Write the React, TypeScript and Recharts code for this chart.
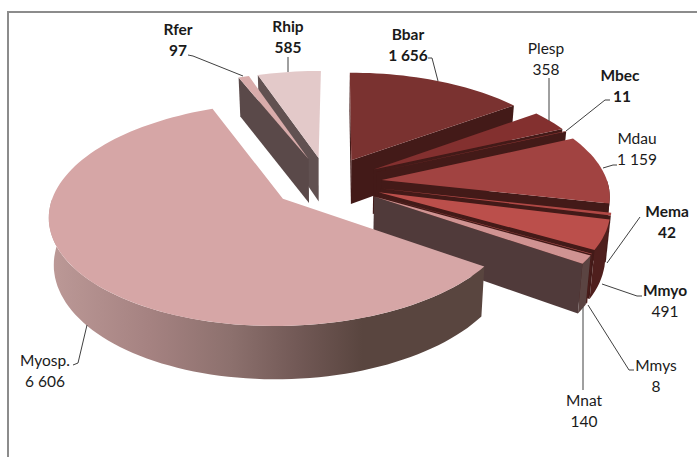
import { PieChart, Pie } from 'recharts'

// species names and counts, clockwise from the Rhip slice
const names = ['Rhip', 'Bbar', 'Plesp', 'Mbec', 'Mdau', 'Mema', 'Mmyo', 'Mmys', 'Mnat', 'Myosp.', 'Rfer']
const counts = [585, 1656, 358, 11, 1159, 42, 491, 8, 140, 6606, 97]
const countLabels = ['585', '1 656', '358', '11', '1 159', '42', '491', '8', '140', '6 606', '97']

const topColors = ['#e3c9c9', '#7a3230', '#83302f', '#8a3432', '#a14341', '#b04845', '#bb4f4b', '#c05b58', '#d09392', '#d6a6a6', '#d9acab']
const wallColors = ['#615151', '#431a18', '#431a18', '#431a18', '#431a18', '#431a18', '#431a18', '#431a18', '#503a3a', '#56443f', '#5a4949']
const rimColors = ['#8f7575', '#431a18', '#431a18', '#431a18', '#431a18', '#4f1f1d', '#4f1f1d', '#5a2422', '#5b4442', 'url(#myospRim)', '#8f7575']

const pieData = names.map((name, i) => ({ name, value: counts[i], count: countLabels[i] }))

// label placement
const labelSpots: Record<string, { x: number; y: number; nameBold: boolean; countBold: boolean; leader: number[][] }> = {
  Bbar: { x: 408, y: 35, nameBold: true, countBold: true, leader: [[438, 81], [432, 58], [428, 58]] },
  Plesp: { x: 546, y: 49, nameBold: false, countBold: false, leader: [[549, 121], [549, 78]] },
  Mbec: { x: 620, y: 76, nameBold: true, countBold: true, leader: [[566, 131], [605, 100], [610, 100]] },
  Mdau: { x: 637, y: 139, nameBold: false, countBold: false, leader: [[603, 168], [613, 165], [617, 165]] },
  Mema: { x: 667, y: 212, nameBold: true, countBold: true, leader: [[607, 263], [640, 217]] },
  Mmyo: { x: 665, y: 291, nameBold: true, countBold: false, leader: [[602, 284], [637, 296], [642, 296]] },
  Mmys: { x: 656, y: 366, nameBold: false, countBold: false, leader: [[588, 305], [629, 370], [634, 370]] },
  Mnat: { x: 584, y: 401, nameBold: false, countBold: false, leader: [[583, 307], [583, 390]] },
  'Myosp.': { x: 45, y: 361, nameBold: false, countBold: false, leader: [[87, 325], [78, 363], [73, 365]] },
  Rfer: { x: 178, y: 30, nameBold: true, countBold: true, leader: [[243, 76], [193, 56], [188, 55]] },
  Rhip: { x: 288, y: 27, nameBold: true, countBold: true, leader: [[288, 72], [288, 57]] },
}

const rad = Math.PI / 180
const TILT = 0.465
const PERSPECTIVE_X = 0.0006
const PERSPECTIVE_Y = 0.0006
const SHEAR = 0.006
const EXPLODE = 55
const DEPTH = 45

// clock angle and radius on the pie's plane -> screen point
function project(cx: number, cy: number, clock: number, r: number, mid: number, drop = 0) {
  const x = r * Math.sin(clock * rad) + EXPLODE * Math.sin(mid * rad)
  const y = -r * Math.cos(clock * rad) - EXPLODE * Math.cos(mid * rad)
  const fx = 1 / (1 - PERSPECTIVE_X * y)
  const fy = 1 / (1 - PERSPECTIVE_Y * y)
  return [cx + x * fx * (1 - drop * 0.0004) - SHEAR * y, cy + (TILT * y + drop) * fy]
}

const toPath = (pts: number[][]) => 'M' + pts.map((p) => `${p[0].toFixed(1)},${p[1].toFixed(1)}`).join('L') + 'Z'

function Slice3D(props: any) {
  const { cx, cy, outerRadius, startAngle, endAngle, index } = props
  const from = 90 - startAngle
  const to = 90 - endAngle
  const mid = (from + to) / 2
  const norm = (a: number) => ((a % 360) + 360) % 360
  const arc = (a: number, b: number, drop = 0) => {
    const pts = []
    const steps = Math.max(2, Math.ceil(Math.abs(b - a) / 2))
    for (let i = 0; i <= steps; i++) pts.push(project(cx, cy, a + ((b - a) * i) / steps, outerRadius, mid, drop))
    return pts
  }
  const apex = project(cx, cy, 0, 0, mid)
  const apexLow = project(cx, cy, 0, 0, mid, DEPTH)
  const wall = (a: number) =>
    toPath([apex, project(cx, cy, a, outerRadius, mid), project(cx, cy, a, outerRadius, mid, DEPTH), apexLow])

  // rim only shows on the front half of the pie
  const rimFrom = Math.max(from, 90)
  const rimTo = Math.min(to, 270)
  const hasRim = rimTo > rimFrom
  const showEnd = norm(to) < 180
  const showStart = norm(from) > 180

  return (
    <g>
      {showStart && <path d={wall(from)} fill={wallColors[index]} />}
      {showEnd && <path d={wall(to)} fill={wallColors[index]} />}
      {hasRim && <path d={toPath([...arc(rimFrom, rimTo), ...arc(rimFrom, rimTo, DEPTH).reverse()])} fill={rimColors[index]} />}
      <path d={toPath([apex, ...arc(from, to)])} fill={topColors[index]} />
    </g>
  )
}

function SliceLabel(props: any) {
  const spot = labelSpots[props.name]
  if (!spot) return null
  const text = { textAnchor: 'middle' as const, fontFamily: 'Lato, sans-serif', fontSize: 15.5, fill: '#1a1a1a' }
  return (
    <g>
      <polyline points={spot.leader.map((p) => p.join(',')).join(' ')} fill="none" stroke="#404040" strokeWidth={1} />
      <text x={spot.x} y={spot.y + 5} fontWeight={spot.nameBold ? 700 : 400} {...text}>{props.name}</text>
      <text x={spot.x + (props.name === 'Mbec' ? 2 : 0)} y={spot.y + 25.5} fontWeight={spot.countBold ? 700 : 400} {...text}>{props.payload?.count ?? props.count}</text>
    </g>
  )
}

export default function App() {
  return (
    <div style={{ position: 'absolute', left: 0, top: 0, width: 697, height: 457, background: '#fff', overflow: 'hidden' }}>
      <div style={{ position: 'absolute', left: 7, top: 11, width: 690, height: 1.5, background: '#8c8c8c' }} />
      <div style={{ position: 'absolute', left: 7, top: 11, width: 1.5, height: 446, background: '#8c8c8c' }} />
      <PieChart width={697} height={457} margin={{ top: 0, right: 0, bottom: 0, left: 0 }} style={{ position: 'absolute', left: 0, top: 0 }}>
        <defs>
          <linearGradient id="myospRim" gradientUnits="userSpaceOnUse" x1="50" y1="0" x2="484" y2="0">
            <stop offset="0" stopColor="#bc9997" />
            <stop offset="0.23" stopColor="#a58281" />
            <stop offset="0.42" stopColor="#8c706d" />
            <stop offset="0.57" stopColor="#725956" />
            <stop offset="0.72" stopColor="#59453f" />
            <stop offset="1" stopColor="#59453f" />
          </linearGradient>
        </defs>
        <Pie
          data={pieData}
          dataKey="value"
          nameKey="name"
          cx={327}
          cy={182.5}
          innerRadius={0}
          outerRadius={226}
          startAngle={108.9}
          endAngle={-251.1}
          stroke="none"
          shape={Slice3D}
          label={SliceLabel}
          labelLine={false}
          isAnimationActive={false}
        />
      </PieChart>
    </div>
  )
}
